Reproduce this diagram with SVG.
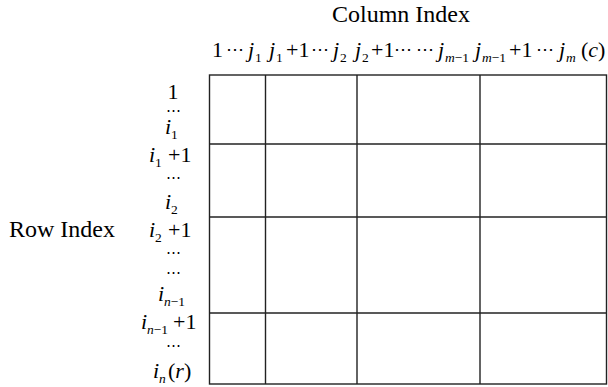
<svg xmlns="http://www.w3.org/2000/svg" width="608" height="387" viewBox="0 0 608 387">
<style>
text{font-family:"Liberation Serif","Times New Roman",serif;fill:#000}
.t{font-size:24px}
.l{font-size:22px}
.i{font-style:italic}
.s{font-size:13.5px}
.d{font-family:"DejaVu Serif","Liberation Serif",serif;font-size:18px}
.r{font-family:"DejaVu Serif","Liberation Serif",serif;font-size:15px}
.g{fill:none;stroke:#222;stroke-width:1.4}
</style>
<rect width="608" height="387" fill="#fff"/>
<g id="titles">
<text class="t" x="401" y="22" text-anchor="middle">Column Index</text>
<text class="t" x="62" y="237" text-anchor="middle">Row Index</text>
</g>
<g id="column-labels">
<text class="l" x="212" y="57">1</text>
<text class="d" x="226" y="55">⋯</text>
<text class="l i" x="248" y="57">j</text><text class="s" x="255" y="62">1</text>
<text class="l i" x="269" y="57">j</text><text class="s" x="276" y="62">1</text>
<text class="l" x="286" y="57">+1</text>
<text class="d" x="311" y="55">⋯</text>
<text class="l i" x="333" y="57">j</text><text class="s" x="340" y="62">2</text>
<text class="l i" x="355" y="57">j</text><text class="s" x="362" y="62">2</text>
<text class="l" x="371" y="57">+1</text>
<text class="d" x="394" y="55">⋯</text>
<text class="d" x="416" y="55">⋯</text>
<text class="l i" x="438" y="57">j</text><text class="s" x="445" y="62"><tspan class="i">m</tspan>−1</text>
<text class="l i" x="475" y="57">j</text><text class="s" x="482" y="62"><tspan class="i">m</tspan>−1</text>
<text class="l" x="509" y="57">+1</text>
<text class="d" x="536" y="55">⋯</text>
<text class="l i" x="559" y="57">j</text><text class="s i" x="566" y="62">m</text>
<text class="l" x="581" y="57">(<tspan class="i">c</tspan>)</text>
</g>
<g id="row-labels">
<text class="l" x="173" y="99" text-anchor="middle">1</text>
<text class="r" x="173" y="115" text-anchor="middle">⋯</text>
<text class="l i" x="165" y="134">i</text><text class="s" x="171" y="139">1</text>
<text class="l i" x="149" y="162">i</text><text class="s" x="155" y="167">1</text><text class="l" x="168" y="162">+1</text>
<text class="r" x="173" y="182" text-anchor="middle">⋯</text>
<text class="l i" x="165" y="209">i</text><text class="s" x="171" y="214">2</text>
<text class="l i" x="149" y="237">i</text><text class="s" x="155" y="242">2</text><text class="l" x="168" y="237">+1</text>
<text class="r" x="173" y="257" text-anchor="middle">⋯</text>
<text class="r" x="173" y="277" text-anchor="middle">⋯</text>
<text class="l i" x="158" y="301">i</text><text class="s" x="164" y="306"><tspan class="i">n</tspan>−1</text>
<text class="l i" x="141" y="329">i</text><text class="s" x="147" y="334"><tspan class="i">n</tspan>−1</text><text class="l" x="173" y="329">+1</text>
<text class="r" x="173" y="350" text-anchor="middle">⋯</text>
<text class="l i" x="153" y="378">i</text><text class="s i" x="159" y="383">n</text><text class="l" x="168" y="378">(<tspan class="i">r</tspan>)</text>
</g>
<g id="grid">
<rect class="g" x="209.5" y="75" width="397" height="309"/>
<line class="g" x1="265.5" y1="75" x2="265.5" y2="384"/>
<line class="g" x1="357" y1="75" x2="357" y2="384"/>
<line class="g" x1="480" y1="75" x2="480" y2="384"/>
<line class="g" x1="209.5" y1="144" x2="606.5" y2="144"/>
<line class="g" x1="209.5" y1="217" x2="606.5" y2="217"/>
<line class="g" x1="209.5" y1="313" x2="606.5" y2="313"/>
</g>
</svg>
